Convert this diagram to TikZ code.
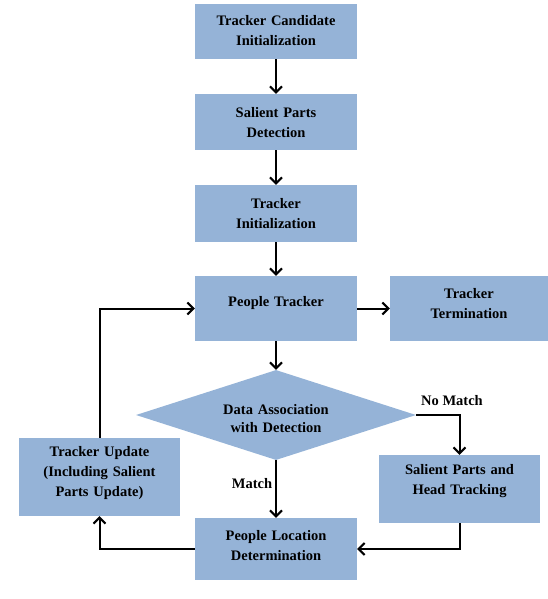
\documentclass[tikz,border=0pt]{standalone}
\usepackage{fontspec}
\setmainfont{Liberation Serif}
\usetikzlibrary{shapes.geometric,arrows.meta}
\definecolor{boxblue}{HTML}{95B3D7}
\tikzset{
  box/.style={fill=boxblue, draw=none, minimum width=162pt, inner sep=0pt},
  txt/.style={text width=160pt, align=center, inner sep=0pt, font=\fontsize{14.5}{20}\selectfont\bfseries},
  dia/.style={diamond, fill=boxblue, draw=none, aspect=3.1, minimum width=280pt, minimum height=90pt, inner sep=0pt},
  conn/.style={draw=black, line width=2pt, -{Straight Barb[length=6pt,width=12pt,line width=2pt]}},
  lab/.style={font=\fontsize{14.5}{16}\selectfont\bfseries}
}
\begin{document}
\begin{tikzpicture}[x=1pt,y=-1pt]
\useasboundingbox (0,0) rectangle (548,599);
\node[box, minimum height=55pt] (b1) at (276,31.5) {};
\node[txt] (b1t) at (276,30.5) {Tracker Candidate\\Initialization};
\node[box, minimum height=56pt] (b2) at (276,122) {};
\node[txt] (b2t) at (276,122.5) {Salient Parts\\Detection};
\node[box, minimum height=57pt] (b3) at (276,213.5) {};
\node[txt] (b3t) at (276,214) {Tracker\\Initialization};
\node[box, minimum height=65pt] (pt) at (276,308.5) {};
\node[txt] (ptt) at (276,303) {People Tracker};
\node[box, minimum height=65pt, minimum width=158pt] (tt) at (469,308.5) {};
\node[txt] (ttt) at (469,304) {Tracker\\Termination};
\node[dia] (da) at (276,415) {};
\node[txt, font=\fontsize{14.5}{18}\selectfont\bfseries] (dat) at (276,418.5) {Data Association\\with Detection};
\node[box, minimum height=78pt, minimum width=161pt] (tu) at (99.5,477) {};
\node[txt] (tut) at (99.5,473) {Tracker Update\\(Including Salient\\Parts Update)};
\node[box, minimum height=68pt, minimum width=161pt] (sp) at (459.5,489) {};
\node[txt] (spt) at (459.5,481.5) {Salient Parts and\\Head Tracking};
\node[box, minimum height=62pt] (pl) at (276,549) {};
\node[txt] (plt) at (276,545.5) {People Location\\Determination};
\draw[conn] (b1) -- (b2);
\draw[conn] (b2) -- (b3);
\draw[conn] (b3) -- (pt);
\draw[conn] (pt) -- (tt);
\draw[conn] (pt) -- (da.north);
\draw[conn] (da.east) -| (sp.north);
\node[lab] (nm) at (452,401) {No Match};
\draw[conn] (da.south) -- (pl.north);
\node[lab] (mt) at (252,484) {Match};
\draw[conn] (sp.south) |- (pl.east);
\draw[conn] (pl.west) -| (tu.south);
\draw[conn] (tu.north) |- (pt.west);
\end{tikzpicture}
\end{document}
